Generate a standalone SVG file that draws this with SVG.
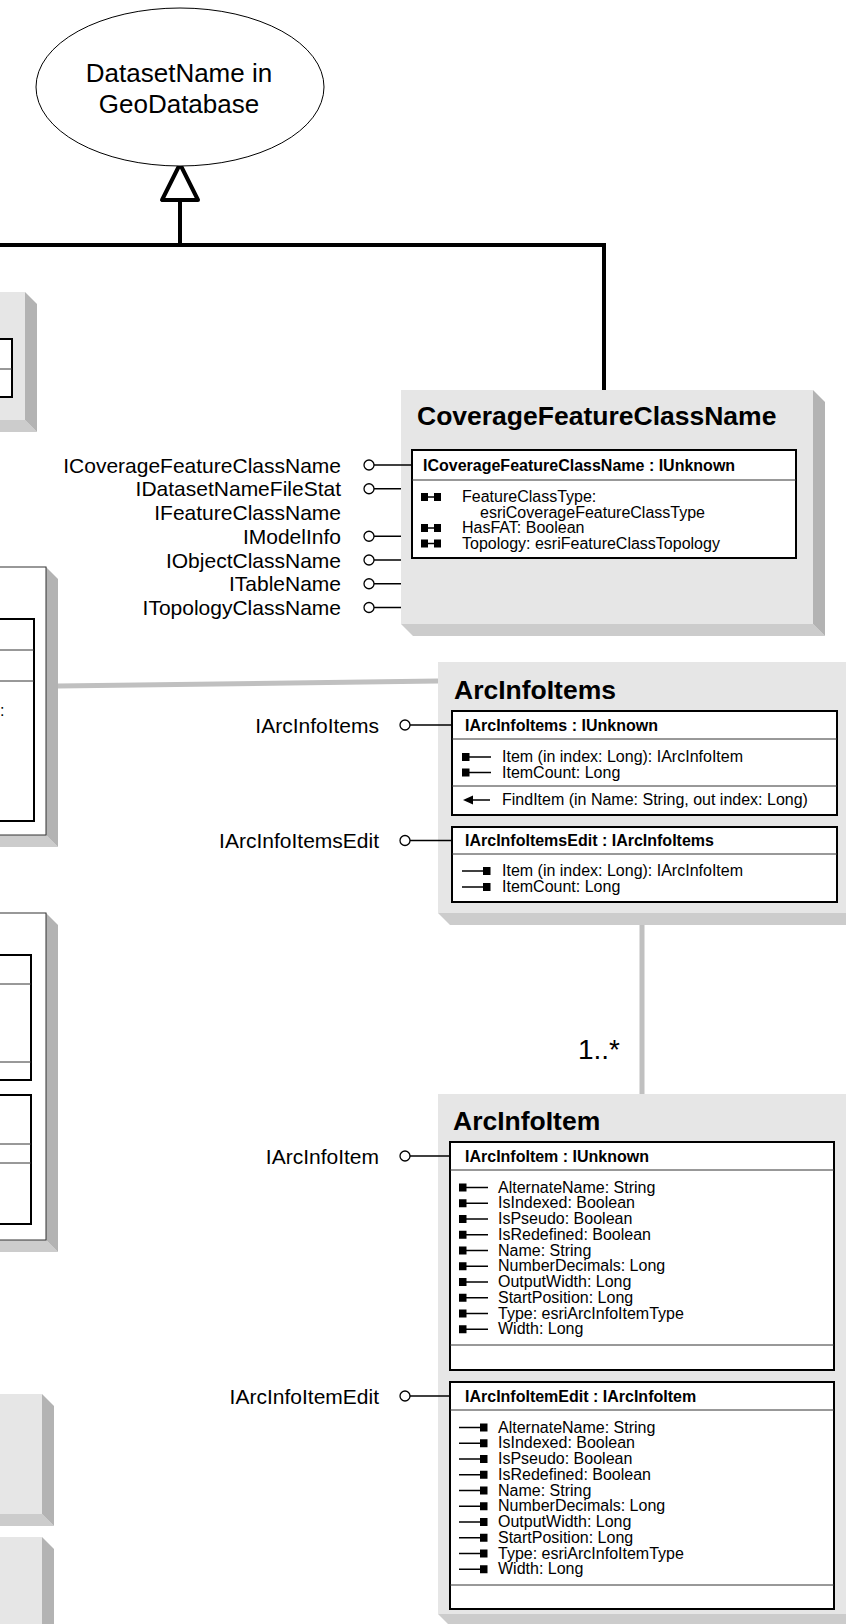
<svg xmlns="http://www.w3.org/2000/svg" xmlns:xlink="http://www.w3.org/1999/xlink" width="846" height="1624" viewBox="0 0 846 1624">
<style>
text{font-family:"Liberation Sans",Arial,Helvetica,sans-serif;fill:#000}
.title{font-size:26.5px;font-weight:bold}
.hdr{font-size:16px;font-weight:bold}
.mem{font-size:16px}
.lbl{font-size:21px;text-anchor:end}
.big{font-size:26px;text-anchor:middle}
.gray{fill:#e6e6e6}
.rs{fill:#b3b3b3}
.bs{fill:#cccccc}
.wbox{fill:#fff;stroke:#333;stroke-width:1}
.ibox{fill:#fff;stroke:#000;stroke-width:2}
.div{stroke:#333;stroke-width:1}
.lol{fill:#fff;stroke:#000;stroke-width:1.3}
.lolline{stroke:#000;stroke-width:1.5}
.gen{fill:none;stroke:#000;stroke-width:4}
.assoc{fill:none;stroke:#c0c0c0;stroke-width:5}
</style>
<defs>
<g id="ro"><rect x="0" y="-4" width="7.5" height="8" fill="#000"/><line x1="7" y1="0" x2="29" y2="0" stroke="#000" stroke-width="1.5"/></g>
<g id="wo"><line x1="0" y1="0" x2="22" y2="0" stroke="#000" stroke-width="1.5"/><rect x="21" y="-4" width="7.5" height="8" fill="#000"/></g>
<g id="rw"><rect x="0" y="-4" width="7" height="8" fill="#000"/><line x1="6" y1="0" x2="14" y2="0" stroke="#000" stroke-width="1.5"/><rect x="13" y="-4" width="7" height="8" fill="#000"/></g>
<g id="meth"><polygon points="0,0 10,-4.5 10,4.5" fill="#000"/><line x1="9" y1="0" x2="27" y2="0" stroke="#000" stroke-width="1.5"/></g>
</defs>

<!-- Left partial boxes -->
<g id="leftBoxA">
<polygon class="bs" points="-10,420 25,420 37,432 -10,432"/>
<polygon class="rs" points="25,292 37,304 37,432 25,420"/>
<rect class="gray" x="-10" y="292" width="35" height="128"/>
<rect class="ibox" x="-5" y="339" width="17" height="58" stroke-width="1.5"/>
<line class="div" x1="-5" y1="369" x2="12" y2="369"/>
</g>
<g id="leftBoxB">
<polygon class="bs" points="-10,835 46,835 58,847 -10,847"/>
<polygon class="rs" points="46,567 58,579 58,847 46,835"/>
<rect class="wbox" x="-10" y="567" width="56" height="268"/>
<rect class="ibox" x="-5" y="619" width="39" height="202" stroke-width="1.5"/>
<line class="div" x1="-5" y1="650" x2="34" y2="650"/>
<line class="div" x1="-5" y1="681" x2="34" y2="681"/>
<text class="mem" x="0" y="716">:</text>
</g>
<g id="leftBoxC">
<polygon class="bs" points="-10,1240 46,1240 58,1252 -10,1252"/>
<polygon class="rs" points="46,913 58,925 58,1252 46,1240"/>
<rect class="wbox" x="-10" y="913" width="56" height="327"/>
<rect class="ibox" x="-5" y="955" width="36" height="125" stroke-width="1.5"/>
<line class="div" x1="-5" y1="984" x2="31" y2="984"/>
<line class="div" x1="-5" y1="1062" x2="31" y2="1062"/>
<rect class="ibox" x="-5" y="1095" width="36" height="129" stroke-width="1.5"/>
<line class="div" x1="-5" y1="1144" x2="31" y2="1144"/>
<line class="div" x1="-5" y1="1163" x2="31" y2="1163"/>
</g>
<g id="leftBoxD">
<polygon class="bs" points="-10,1514 42,1514 54,1526 -10,1526"/>
<polygon class="rs" points="42,1394 54,1406 54,1526 42,1514"/>
<rect class="gray" x="-10" y="1394" width="52" height="120"/>
</g>
<g id="leftBoxE">
<polygon class="rs" points="42,1537 54,1549 54,1640 42,1640"/>
<rect class="gray" x="-10" y="1537" width="52" height="103"/>
</g>

<!-- Connectors -->
<g id="connectors">
<polyline class="gen" points="-10,245 604,245 604,390"/>
<line class="gen" x1="180" y1="245" x2="180" y2="200"/>
<polygon points="180,164 162,200 198,200" fill="#fff" stroke="#000" stroke-width="4" stroke-linejoin="round"/>
<line class="assoc" x1="58" y1="686" x2="438" y2="681"/>
<line class="assoc" x1="642" y1="913" x2="642" y2="1094"/>
<text class="big" x="620" y="1059" style="text-anchor:end;font-size:28px">1..*</text>
</g>

<!-- Ellipse node -->
<g id="DatasetNameInGeoDatabase">
<ellipse cx="180" cy="87" rx="144" ry="79" fill="#fff" stroke="#000" stroke-width="1"/>
<text class="big" x="179" y="82">DatasetName in</text>
<text class="big" x="179" y="113">GeoDatabase</text>
</g>

<!-- CoverageFeatureClassName -->
<g id="CoverageFeatureClassName">
<polygon class="bs" points="401,624 813,624 825,636 413,636"/>
<polygon class="rs" points="813,390 825,402 825,636 813,624"/>
<rect class="gray" x="401" y="390" width="412" height="234"/>
<text class="title" x="417" y="425">CoverageFeatureClassName</text>
<rect class="ibox" x="412" y="450" width="384" height="108"/>
<line class="div" x1="412" y1="480" x2="796" y2="480"/>
<text class="hdr" x="423" y="470.5">ICoverageFeatureClassName : IUnknown</text>
<use href="#rw" x="421" y="497"/>
<text class="mem" x="462" y="502">FeatureClassType:</text>
<text class="mem" x="480" y="517.5">esriCoverageFeatureClassType</text>
<use href="#rw" x="421" y="528"/>
<text class="mem" x="462" y="533">HasFAT: Boolean</text>
<use href="#rw" x="421" y="543.5"/>
<text class="mem" x="462" y="548.5">Topology: esriFeatureClassTopology</text>
<line class="lolline" x1="374" y1="465" x2="412" y2="465"/>
<line class="lolline" x1="374" y1="488.75" x2="401" y2="488.75"/>
<line class="lolline" x1="374" y1="536.25" x2="401" y2="536.25"/>
<line class="lolline" x1="374" y1="560" x2="401" y2="560"/>
<line class="lolline" x1="374" y1="583.75" x2="401" y2="583.75"/>
<line class="lolline" x1="374" y1="607.5" x2="401" y2="607.5"/>
<circle class="lol" cx="369" cy="465" r="5"/>
<circle class="lol" cx="369" cy="488.75" r="5"/>
<circle class="lol" cx="369" cy="536.25" r="5"/>
<circle class="lol" cx="369" cy="560" r="5"/>
<circle class="lol" cx="369" cy="583.75" r="5"/>
<circle class="lol" cx="369" cy="607.5" r="5"/>
<text class="lbl" x="341" y="472.5">ICoverageFeatureClassName</text>
<text class="lbl" x="341" y="496.25">IDatasetNameFileStat</text>
<text class="lbl" x="341" y="520">IFeatureClassName</text>
<text class="lbl" x="341" y="543.75">IModelInfo</text>
<text class="lbl" x="341" y="567.5">IObjectClassName</text>
<text class="lbl" x="341" y="591.25">ITableName</text>
<text class="lbl" x="341" y="615">ITopologyClassName</text>
</g>

<!-- ArcInfoItems -->
<g id="ArcInfoItems">
<polygon class="bs" points="438,913 860,913 860,925 450,925"/>
<rect class="gray" x="438" y="662" width="420" height="251"/>
<text class="title" x="454" y="699">ArcInfoItems</text>
<rect class="ibox" x="452" y="711" width="385" height="104"/>
<line class="div" x1="452" y1="739" x2="837" y2="739"/>
<line class="div" x1="452" y1="786" x2="837" y2="786"/>
<text class="hdr" x="465" y="730.5">IArcInfoItems : IUnknown</text>
<use href="#ro" x="462" y="757"/>
<text class="mem" x="502" y="762">Item (in index: Long): IArcInfoItem</text>
<use href="#ro" x="462" y="772.5"/>
<text class="mem" x="502" y="777.5">ItemCount: Long</text>
<use href="#meth" x="463" y="800"/>
<text class="mem" x="502" y="805">FindItem (in Name: String, out index: Long)</text>
<rect class="ibox" x="452" y="827" width="385" height="75"/>
<line class="div" x1="452" y1="854" x2="837" y2="854"/>
<text class="hdr" x="465" y="846">IArcInfoItemsEdit : IArcInfoItems</text>
<use href="#wo" x="462" y="871"/>
<text class="mem" x="502" y="876">Item (in index: Long): IArcInfoItem</text>
<use href="#wo" x="462" y="887"/>
<text class="mem" x="502" y="892">ItemCount: Long</text>
<line class="lolline" x1="410" y1="725" x2="452" y2="725"/>
<circle class="lol" cx="405" cy="725" r="5"/>
<text class="lbl" x="379" y="732.5">IArcInfoItems</text>
<line class="lolline" x1="410" y1="840.5" x2="452" y2="840.5"/>
<circle class="lol" cx="405" cy="840.5" r="5"/>
<text class="lbl" x="379" y="848">IArcInfoItemsEdit</text>
</g>

<!-- ArcInfoItem -->
<g id="ArcInfoItem">
<polygon class="bs" points="438,1614 860,1614 860,1626 450,1626"/>
<rect class="gray" x="438" y="1094" width="420" height="520"/>
<text class="title" x="453" y="1130">ArcInfoItem</text>
<rect class="ibox" x="450" y="1142" width="384" height="228"/>
<line class="div" x1="450" y1="1170" x2="834" y2="1170"/>
<line class="div" x1="450" y1="1345" x2="834" y2="1345"/>
<text class="hdr" x="465" y="1161.5">IArcInfoItem : IUnknown</text>
<use href="#ro" x="459" y="1187.5"/>
<use href="#ro" x="459" y="1203.25"/>
<use href="#ro" x="459" y="1219"/>
<use href="#ro" x="459" y="1234.75"/>
<use href="#ro" x="459" y="1250.5"/>
<use href="#ro" x="459" y="1266.25"/>
<use href="#ro" x="459" y="1282"/>
<use href="#ro" x="459" y="1297.75"/>
<use href="#ro" x="459" y="1313.5"/>
<use href="#ro" x="459" y="1329.25"/>
<text class="mem" x="498" y="1192.5">AlternateName: String</text>
<text class="mem" x="498" y="1208.25">IsIndexed: Boolean</text>
<text class="mem" x="498" y="1224">IsPseudo: Boolean</text>
<text class="mem" x="498" y="1239.75">IsRedefined: Boolean</text>
<text class="mem" x="498" y="1255.5">Name: String</text>
<text class="mem" x="498" y="1271.25">NumberDecimals: Long</text>
<text class="mem" x="498" y="1287">OutputWidth: Long</text>
<text class="mem" x="498" y="1302.75">StartPosition: Long</text>
<text class="mem" x="498" y="1318.5">Type: esriArcInfoItemType</text>
<text class="mem" x="498" y="1334.25">Width: Long</text>
<rect class="ibox" x="450" y="1382" width="384" height="227"/>
<line class="div" x1="450" y1="1410" x2="834" y2="1410"/>
<line class="div" x1="450" y1="1585" x2="834" y2="1585"/>
<text class="hdr" x="465" y="1401.5">IArcInfoItemEdit : IArcInfoItem</text>
<use href="#wo" x="459" y="1427.5"/>
<use href="#wo" x="459" y="1443.25"/>
<use href="#wo" x="459" y="1459"/>
<use href="#wo" x="459" y="1474.75"/>
<use href="#wo" x="459" y="1490.5"/>
<use href="#wo" x="459" y="1506.25"/>
<use href="#wo" x="459" y="1522"/>
<use href="#wo" x="459" y="1537.75"/>
<use href="#wo" x="459" y="1553.5"/>
<use href="#wo" x="459" y="1569.25"/>
<text class="mem" x="498" y="1432.5">AlternateName: String</text>
<text class="mem" x="498" y="1448.25">IsIndexed: Boolean</text>
<text class="mem" x="498" y="1464">IsPseudo: Boolean</text>
<text class="mem" x="498" y="1479.75">IsRedefined: Boolean</text>
<text class="mem" x="498" y="1495.5">Name: String</text>
<text class="mem" x="498" y="1511.25">NumberDecimals: Long</text>
<text class="mem" x="498" y="1527">OutputWidth: Long</text>
<text class="mem" x="498" y="1542.75">StartPosition: Long</text>
<text class="mem" x="498" y="1558.5">Type: esriArcInfoItemType</text>
<text class="mem" x="498" y="1574.25">Width: Long</text>
<line class="lolline" x1="410" y1="1156" x2="450" y2="1156"/>
<circle class="lol" cx="405" cy="1156" r="5"/>
<text class="lbl" x="379" y="1163.5">IArcInfoItem</text>
<line class="lolline" x1="410" y1="1396" x2="450" y2="1396"/>
<circle class="lol" cx="405" cy="1396" r="5"/>
<text class="lbl" x="379" y="1403.5">IArcInfoItemEdit</text>
</g>
</svg>
